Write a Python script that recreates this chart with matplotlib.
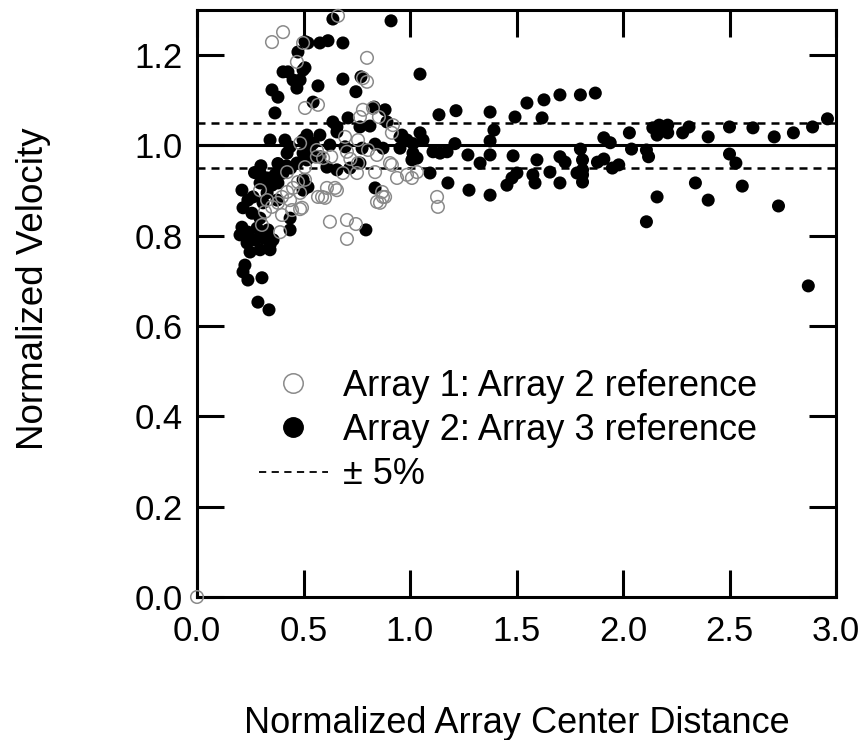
import matplotlib
matplotlib.use("Agg")
import matplotlib.pyplot as plt
from matplotlib.lines import Line2D

plt.rcParams['font.family'] = ['Liberation Sans', 'DejaVu Sans']

# Array 2: Array 3 reference (filled black)
arr2_x = [1.80, 1.87, 1.91, 1.94, 1.80, 1.81, 1.81, 1.81, 1.81, 1.88, 1.91, 1.95, 1.98, 2.03, 2.04,
          2.11, 2.12, 2.14, 2.16, 2.17, 2.21, 2.21, 2.28, 2.31, 2.40, 2.50, 2.50, 2.53, 2.56, 2.61,
          2.71, 2.80, 2.89, 2.96, 2.34, 2.40, 2.16, 2.11, 2.73, 2.87,
          0.911, 1.047, 0.883, 1.136, 1.216, 1.376, 1.549, 1.629, 1.704, 1.493, 1.620, 1.394, 1.376,
          1.047, 1.061, 0.962, 1.014, 1.211, 1.108, 1.141, 1.174, 1.272, 1.376, 1.484, 1.596, 1.704,
          1.728, 1.329, 1.014, 1.033,
          1.094, 1.178, 1.277, 1.376, 1.455, 1.479, 1.502, 1.577, 1.587, 1.657, 1.704, 1.009, 1.784,
          0.638, 0.577, 0.615, 0.685, 0.507, 0.498, 0.484, 0.568, 0.685, 0.770, 0.746, 0.545, 0.831,
          0.638, 0.709, 0.812, 0.892, 0.657, 0.577, 0.516, 0.953, 0.986, 0.624, 0.695, 0.775, 0.836,
          0.873, 0.531, 0.498, 0.516, 0.577, 0.610, 0.657, 0.718, 0.765, 0.498, 0.836, 0.793, 0.953,
          0.521, 0.474, 0.507, 0.404, 0.427, 0.451, 0.469, 0.352, 0.380, 0.366, 0.343, 0.413, 0.437,
          0.498, 0.657, 0.765, 0.507, 0.554,
          0.516, 0.545, 0.469, 0.404, 0.366, 0.329, 0.352, 0.380, 0.211, 0.296, 0.263, 0.239, 0.216,
          0.258, 0.296, 0.211, 0.202, 0.239, 0.282, 0.235, 0.272, 0.310, 0.343, 0.357, 0.249, 0.296,
          0.343, 0.437, 0.333, 0.329, 0.310, 0.376, 0.437, 0.225, 0.216, 0.239, 0.305, 0.286, 0.338,
          0.423, 0.296, 0.498, 0.521, 0.30, 0.27, 0.44, 0.38, 0.42]
arr2_y = [1.112, 1.116, 1.017, 1.006, 0.992, 0.968, 0.946, 0.935, 0.919, 0.963, 0.970, 0.950, 0.957,
          1.028, 0.992, 0.990, 0.975, 1.039, 1.023, 1.045, 1.045, 1.028, 1.028, 1.041, 1.019, 1.041,
          0.981, 0.961, 0.910, 1.039, 1.019, 1.028, 1.041, 1.059, 0.917, 0.879, 0.886, 0.831, 0.866,
          0.689,
          1.276, 1.158, 1.079, 1.068, 1.077, 1.074, 1.094, 1.101, 1.112, 1.063, 1.061, 1.034, 1.010,
          1.028, 1.012, 1.023, 1.004, 1.004, 0.986, 0.983, 0.986, 0.979, 0.979, 0.977, 0.968, 0.975,
          0.963, 0.961, 0.983, 0.972,
          0.939, 0.917, 0.901, 0.890, 0.912, 0.928, 0.939, 0.935, 0.917, 0.941, 0.917, 0.968, 0.939,
          1.280, 1.227, 1.232, 1.227, 1.230, 1.167, 1.145, 1.132, 1.147, 1.152, 1.119, 1.096, 1.085,
          1.052, 1.061, 1.043, 1.052, 1.030, 1.023, 1.019, 1.019, 1.012, 1.001, 0.997, 0.994, 1.003,
          0.994, 0.997, 0.983, 0.968, 0.975, 0.952, 0.946, 0.950, 0.961, 0.901, 0.906, 0.813, 0.994,
          1.227, 1.207, 1.172, 1.163, 1.163, 1.145, 1.127, 1.123, 1.107, 1.072, 1.012, 1.012, 0.997,
          1.012, 1.041, 1.041, 0.983, 0.975,
          1.023, 1.005, 0.961, 0.939, 0.935, 0.928, 0.912, 0.917, 0.901, 0.917, 0.886, 0.879, 0.862,
          0.850, 0.839, 0.819, 0.802, 0.808, 0.817, 0.784, 0.791, 0.795, 0.780, 0.791, 0.764, 0.769,
          0.769, 0.813, 0.813, 0.895, 0.873, 0.879, 0.839, 0.735, 0.720, 0.702, 0.707, 0.653, 0.636,
          0.983, 0.939, 0.924, 0.908, 0.955, 0.940, 0.950, 0.960, 0.955]

# Array 1: Array 2 reference (hollow grey)
arr1_x = [0.0,
          0.915, 0.939, 0.986, 1.009, 1.033, 0.869, 0.873, 0.859, 1.127, 1.131,
          0.662, 0.798, 0.798, 0.779, 0.507, 0.568, 0.779, 0.826, 0.854, 0.765, 0.920, 0.915, 0.695,
          0.756, 0.704, 0.803, 0.845, 0.592, 0.756, 0.685, 0.751, 0.836, 0.906, 0.610, 0.648, 0.587,
          0.883, 0.845, 0.493, 0.624, 0.704, 0.746, 0.704,
          0.352, 0.404, 0.498, 0.469, 0.484, 0.563,
          0.563, 0.507, 0.423, 0.296, 0.329, 0.352, 0.380, 0.399, 0.423, 0.451, 0.474, 0.507, 0.484,
          0.437, 0.446, 0.399, 0.319, 0.390, 0.305, 0.568,
          0.601, 0.657, 0.484, 0.63, 0.72]
arr1_y = [0.0,
          0.957, 0.928, 0.935, 0.928, 0.941, 0.897, 0.886, 0.873, 0.886, 0.864,
          1.287, 1.194, 1.141, 1.149, 1.083, 1.090, 1.079, 1.083, 1.063, 1.063, 1.045, 1.028, 1.019,
          1.012, 0.986, 0.990, 0.979, 0.972, 0.961, 0.939, 0.939, 0.941, 0.961, 0.906, 0.906, 0.886,
          0.886, 0.875, 0.862, 0.831, 0.835, 0.826, 0.793,
          1.229, 1.251, 1.227, 1.185, 1.005, 0.975,
          0.990, 0.952, 0.941, 0.901, 0.879, 0.864, 0.873, 0.886, 0.897, 0.906, 0.919, 0.924, 0.895,
          0.879, 0.857, 0.846, 0.853, 0.808, 0.824, 0.886,
          0.884, 0.901, 0.859, 0.975, 0.970]

ref_level = 1.0
band_levels = [0.95, 1.05]

x_ticks = [0.0, 0.5, 1.0, 1.5, 2.0, 2.5, 3.0]
y_ticks = [0.0, 0.2, 0.4, 0.6, 0.8, 1.0, 1.2]

fig = plt.figure(figsize=(8.64, 7.40), dpi=100)
ax = fig.add_axes([197/864, 1 - 597/740, 639/864, 587/740])

ax.axhline(ref_level, color='black', lw=2.2, zorder=1)
for lv in band_levels:
    ax.axhline(lv, color='black', lw=1.8, dashes=(3.2, 2.4), zorder=1)

ax.scatter(arr2_x, arr2_y, s=88, color='black', edgecolors='none', zorder=3, clip_on=False)
ax.scatter(arr1_x, arr1_y, s=82, facecolors='none', edgecolors='#8a8a8a', linewidths=1.1,
           zorder=4, clip_on=False)

ax.set_xlim(0, 3.0)
ax.set_ylim(0, 1.3)
ax.set_xticks(x_ticks)
ax.set_xticklabels([f"{v:.1f}" for v in x_ticks])
ax.set_yticks(y_ticks)
ax.set_yticklabels([f"{v:.1f}" for v in y_ticks])

for sp in ax.spines.values():
    sp.set_linewidth(2.2)
ax.tick_params(axis='both', which='major', direction='in', length=19.5, width=2.2,
               labelsize=25, top=True, right=True, colors='black')
ax.tick_params(axis='x', pad=13)
ax.tick_params(axis='y', pad=10.5)

ax.set_xlabel('Normalized Array Center Distance', fontsize=26, labelpad=42)
ax.set_ylabel('Normalized Velocity', fontsize=26.5, labelpad=60)
ax.yaxis.label.set_y(0.525)

handles = [
    Line2D([], [], ls='none', marker='o', markersize=14, markerfacecolor='none',
           markeredgecolor='#8a8a8a', markeredgewidth=1.1),
    Line2D([], [], ls='none', marker='o', markersize=14, markerfacecolor='black',
           markeredgecolor='black'),
    Line2D([], [], color='black', lw=1.3, dashes=(4, 3)),
]
labels = ['Array 1: Array 2 reference', 'Array 2: Array 3 reference', '± 5%']
ax.legend(handles, labels, loc='upper left', bbox_to_anchor=(0.097, 0.389), frameon=False,
          fontsize=26, handlelength=1.91, handletextpad=0.42, labelspacing=0.26,
          borderpad=0, borderaxespad=0)

fig.savefig('out.png', dpi=100)
